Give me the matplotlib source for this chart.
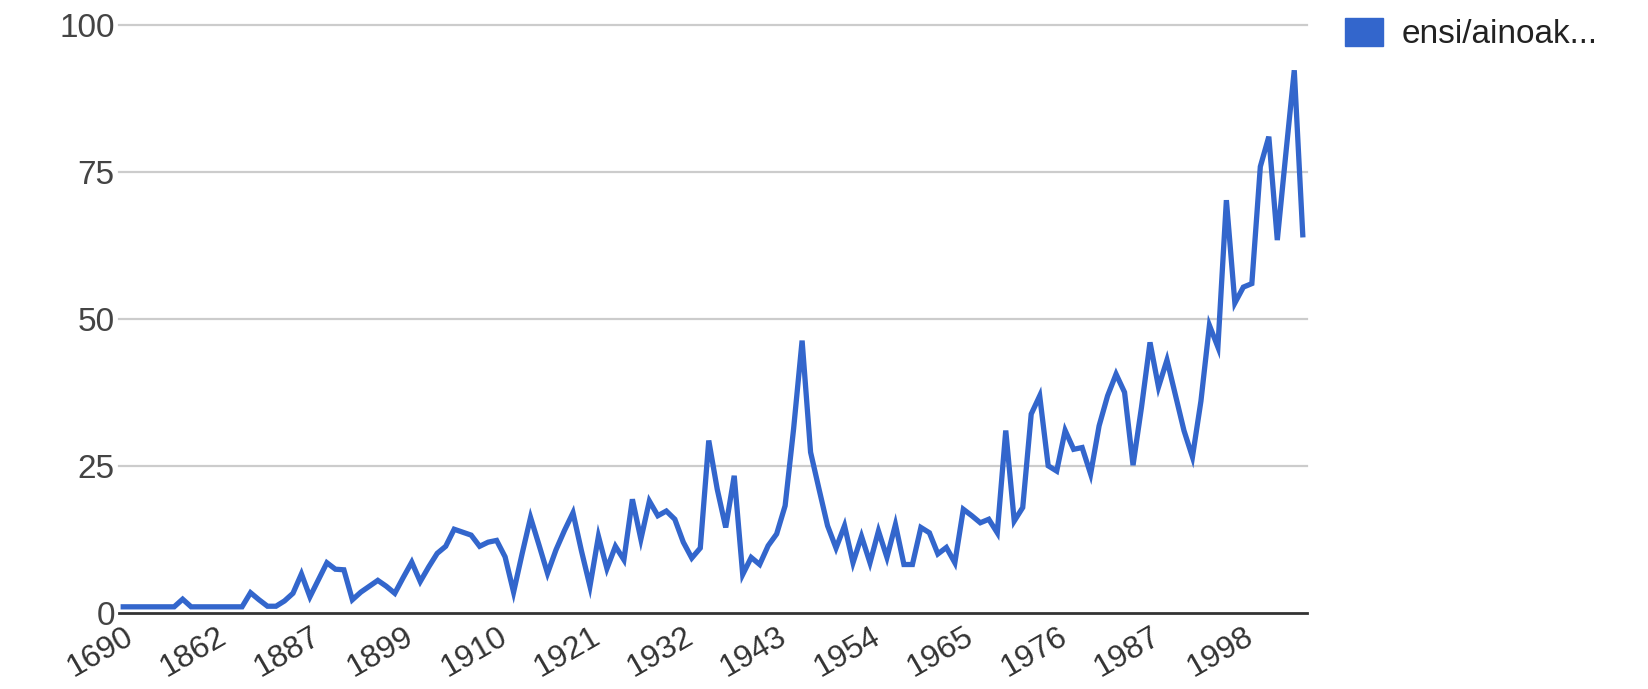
import matplotlib
matplotlib.use("Agg")
import matplotlib.pyplot as plt
from matplotlib.patches import Patch
from matplotlib.transforms import ScaledTranslation
import numpy as np

plt.rcParams['font.family'] = ['Liberation Sans', 'DejaVu Sans']

# valeurs (140 catégories, une par année présente)
valeurs = [
    1, 1, 1, 1, 1, 1, 1, 2.3, 1, 1,
    1, 1, 1, 1, 1, 3.4, 2.2, 1.1, 1.1, 2.0,
    3.3, 6.6, 2.7, 5.6, 8.5, 7.4, 7.3, 2.2, 3.5, 4.5,
    5.5, 4.5, 3.3, 6.0, 8.6, 5.3, 7.8, 10.1, 11.3, 14.2,
    13.7, 13.2, 11.3, 12.0, 12.3, 9.5, 3.5, 10.0, 16.2, 11.5,
    6.7, 10.7, 14.0, 17.0, 10.5, 4.5, 13.0, 7.5, 11.3, 9.0,
    19.3, 12.5, 19.0, 16.5, 17.3, 15.9, 12.0, 9.3, 11.0, 29.3,
    21.0, 14.5, 23.3, 6.5, 9.4, 8.2, 11.4, 13.4, 18.2, 31.3,
    46.3, 27.3, 21.0, 14.8, 11.0, 14.8, 8.5, 13.0, 8.5, 13.9,
    9.4, 15.0, 8.2, 8.2, 14.5, 13.6, 10.0, 11.1, 8.5, 17.6,
    16.5, 15.3, 15.9, 13.6, 31.0, 15.6, 17.9, 33.8, 36.9, 25.0,
    24.1, 31.0, 27.8, 28.1, 23.6, 31.8, 36.9, 40.6, 37.5, 25.1,
    35.0, 46.0, 38.4, 43.0, 37.0, 31.0, 26.5, 36.0, 48.9, 45.2,
    70.2, 52.7, 55.4, 56.0, 75.9, 81.0, 63.4, 78.0, 92.3, 64.3,
]
etiquettes_annees = ["1690", "1862", "1887", "1899", "1910", "1921", "1932",
                     "1943", "1954", "1965", "1976", "1987", "1998"]
pas_etiquettes = 11
serie_nom = "ensi/ainoak..."
y_ticks = [0, 25, 50, 75, 100]


def main():
    fig = plt.figure(figsize=(16.49, 6.89), dpi=100)
    ax = fig.add_axes([119 / 1649, 76.3 / 689, 1188 / 1649, 587.7 / 689])

    x = np.arange(len(valeurs))
    ax.plot(x, valeurs, color='#3366cc', linewidth=3.8, solid_joinstyle='miter', zorder=3)

    ax.set_xlim(-0.5, len(valeurs) - 0.5)
    ax.set_ylim(0, 100)

    # grille horizontale
    for v in y_ticks[1:]:
        ax.axhline(v, color='#cccccc', linewidth=1.6, zorder=1, clip_on=False)
    ax.axhline(0, color='#333333', linewidth=2.0, zorder=4, clip_on=False)

    for s in ax.spines.values():
        s.set_visible(False)

    ax.set_yticks(y_ticks)
    ax.set_yticklabels([str(v) for v in y_ticks])
    ax.tick_params(axis='y', length=0, pad=3, labelsize=24, labelcolor='#444444')

    pos = np.arange(0, len(etiquettes_annees) * pas_etiquettes, pas_etiquettes)
    ax.set_xticks(pos)
    ax.set_xticklabels(etiquettes_annees, rotation=30, ha='right',
                       rotation_mode='anchor', va='center')
    ax.tick_params(axis='x', length=0, pad=16, labelsize=23, labelcolor='#333333')
    decal = ScaledTranslation(8 / 100, 0, fig.dpi_scale_trans)
    for lab in ax.get_xticklabels():
        lab.set_transform(lab.get_transform() + decal)

    # légende à droite
    fig.legend(handles=[Patch(color='#3366cc', label=serie_nom)],
               loc='upper left', bbox_to_anchor=(1345 / 1649, 1 - 18 / 689),
               frameon=False, fontsize=24, handlelength=1.15, handleheight=0.9,
               handletextpad=0.55, borderpad=0, borderaxespad=0,
               labelcolor='#222222')

    fig.savefig("out.png", dpi=100)
    plt.close(fig)


if __name__ == "__main__":
    main()
